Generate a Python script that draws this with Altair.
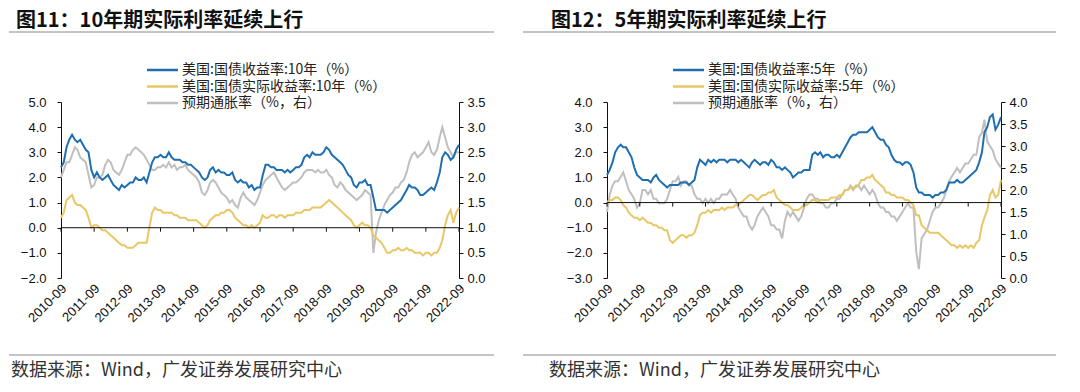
import altair as alt
import pandas as pd

# ---------------- data ----------------
tick_labels = ["2010-09", "2011-09", "2012-09", "2013-09", "2014-09", "2015-09", "2016-09",
               "2017-09", "2018-09", "2019-09", "2020-09", "2021-09", "2022-09"]
months = pd.date_range("2010-09-01", "2022-09-01", freq="MS")

us10_nominal = [
    2.4, 2.6, 3.2, 3.5, 3.7, 3.5, 3.4, 3.5, 3.3, 3.1, 3.0, 2.3,
    2.0, 2.2, 2.0, 1.9, 2.0, 2.1, 1.9, 1.7, 1.6, 1.5, 1.7, 1.6,
    1.7, 1.8, 1.8, 2.0, 1.9, 1.9, 2.0, 1.8, 2.2, 2.6, 2.8, 2.8,
    2.9, 2.8, 2.8, 3.0, 2.8, 2.7, 2.7, 2.7, 2.6, 2.6, 2.5, 2.5,
    2.4, 2.3, 2.2, 2.0, 1.9, 2.0, 2.3, 2.4, 2.2, 2.3, 2.2, 2.2,
    2.1, 2.1, 2.2, 1.9, 1.8, 1.9, 1.8, 1.8, 1.6, 1.7, 1.5, 1.6,
    1.6, 2.1, 2.5, 2.5, 2.4, 2.4, 2.3, 2.3, 2.3, 2.2, 2.3, 2.2,
    2.3, 2.4, 2.4, 2.5, 2.8, 2.9, 2.8, 3.0, 2.9, 2.9, 2.9, 3.0,
    3.2, 3.1, 2.9, 2.8, 2.7, 2.6, 2.5, 2.3, 2.1, 2.0, 1.7, 1.6,
    1.8, 1.8, 1.9, 1.7, 1.7, 1.2, 0.7, 0.7, 0.7, 0.7, 0.6, 0.7,
    0.8, 0.9, 1.0, 1.1, 1.3, 1.5, 1.7, 1.6, 1.6, 1.5, 1.3, 1.3,
    1.4, 1.5, 1.6, 1.5, 1.8, 2.2, 2.8, 3.0, 2.9, 2.7, 2.8, 3.1, 3.3]
us10_real = [
    0.4, 0.6, 1.1, 1.2, 1.3, 1.0, 0.9, 0.9, 0.8, 0.7, 0.4, 0.0,
    0.1, 0.1, 0.0, -0.1, -0.1, -0.2, -0.3, -0.4, -0.5, -0.6, -0.7, -0.7,
    -0.8, -0.8, -0.8, -0.7, -0.6, -0.6, -0.6, -0.6, 0.0, 0.6, 0.8, 0.7,
    0.7, 0.6, 0.6, 0.6, 0.6, 0.5, 0.5, 0.4, 0.4, 0.4, 0.3, 0.3,
    0.3, 0.3, 0.2, 0.1, 0.0, 0.1, 0.3, 0.4, 0.5, 0.5, 0.6, 0.6,
    0.7, 0.7, 0.6, 0.4, 0.3, 0.2, 0.1, 0.1, 0.0, 0.1, 0.0, 0.1,
    0.2, 0.5, 0.4, 0.4, 0.5, 0.5, 0.4, 0.5, 0.5, 0.4, 0.5, 0.5,
    0.5, 0.6, 0.6, 0.6, 0.7, 0.7, 0.7, 0.8, 0.8, 0.8, 0.8, 0.9,
    1.0, 1.1, 1.0, 0.9, 0.8, 0.7, 0.6, 0.5, 0.4, 0.3, 0.1, 0.0,
    0.1, 0.2, 0.1, 0.1, 0.0, -0.3, -0.4, -0.5, -0.6, -0.8, -1.0, -1.0,
    -0.9, -0.9, -0.8, -0.9, -0.9, -0.8, -0.9, -0.9, -1.0, -1.0, -1.0, -1.1,
    -1.0, -1.0, -1.1, -1.0, -1.0, -0.8, -0.5, 0.1, 0.5, 0.7, 0.2, 0.6, 0.8]
us10_breakeven = [
    2.0, 2.15, 2.3, 2.3, 2.45, 2.6, 2.55, 2.4, 2.35, 2.3, 2.05, 1.8,
    1.85, 2.0, 2.0, 2.05, 2.25, 2.35, 2.3, 2.15, 2.1, 2.05, 2.15, 2.3,
    2.45, 2.45, 2.55, 2.6, 2.55, 2.5, 2.45, 2.35, 2.25, 2.15, 2.15, 2.2,
    2.2, 2.25, 2.2, 2.3, 2.2, 2.25, 2.15, 2.2, 2.2, 2.25, 2.15, 2.1,
    2.05, 2.0, 1.9, 1.7, 1.65, 1.75, 1.9, 1.95, 1.9, 1.8, 1.7, 1.65,
    1.6, 1.5, 1.55, 1.45, 1.4, 1.6, 1.7, 1.6, 1.55, 1.5, 1.45, 1.55,
    1.7, 1.85, 1.95, 2.0, 2.05, 2.1, 2.0, 1.9, 1.8, 1.75, 1.8, 1.85,
    1.9, 1.9, 1.95, 2.0, 2.1, 2.15, 2.15, 2.15, 2.1, 2.15, 2.1, 2.1,
    2.15, 2.05, 2.0, 1.85, 1.8, 1.9, 1.85, 1.75, 1.7, 1.65, 1.6, 1.55,
    1.6, 1.65, 1.75, 1.7, 1.65, 0.5, 0.9, 1.15, 1.3, 1.45, 1.55, 1.65,
    1.7, 1.8, 1.8, 1.9, 1.95, 2.1, 2.3, 2.45, 2.5, 2.4, 2.45, 2.5,
    2.6, 2.7, 2.5, 2.45, 2.55, 2.8, 3.0, 2.8, 2.6, 2.5, 2.4, 2.5, 2.5]

us5_nominal = [
    1.1, 1.3, 1.6, 2.0, 2.2, 2.3, 2.2, 2.2, 2.0, 1.8, 1.4, 1.1,
    1.0, 0.9, 0.9, 0.9, 0.8, 1.0, 1.1, 0.9, 0.8, 0.7, 0.6, 0.7,
    0.7, 0.7, 0.7, 0.8, 0.8, 0.8, 0.7, 0.8, 0.9, 1.4, 1.7, 1.6,
    1.5, 1.7, 1.6, 1.7, 1.6, 1.7, 1.7, 1.7, 1.6, 1.7, 1.7, 1.7,
    1.6, 1.7, 1.6, 1.5, 1.4, 1.6, 1.7, 1.6, 1.5, 1.6, 1.6, 1.5,
    1.7, 1.6, 1.4, 1.4, 1.3, 1.4, 1.3, 1.2, 1.0, 1.1, 1.2, 1.2,
    1.3, 1.3, 1.3, 1.9, 2.0, 1.9, 2.0, 1.8, 1.9, 1.9, 1.8, 1.8,
    1.9, 1.8, 2.0, 2.2, 2.4, 2.6, 2.7, 2.7, 2.8, 2.8, 2.8, 2.8,
    2.9, 3.0, 2.8, 2.6, 2.5, 2.5, 2.3, 2.2, 1.9, 1.7, 1.6, 1.6,
    1.5, 1.6, 1.6, 1.5, 1.2, 0.6, 0.4, 0.4, 0.3, 0.3, 0.3, 0.2,
    0.3, 0.3, 0.4, 0.4, 0.5, 0.8, 0.8, 0.8, 0.9, 0.8, 0.8, 0.9,
    1.0, 1.1, 1.2, 1.3, 1.6, 2.0, 2.8, 3.0, 3.4, 3.5, 2.9, 3.1, 3.4]
us5_real = [
    0.0, 0.1, 0.1, 0.2, 0.2, 0.1, -0.1, -0.2, -0.4, -0.5, -0.6, -0.6,
    -0.7, -0.6, -0.7, -0.8, -0.8, -0.9, -0.9, -1.0, -1.0, -1.1, -1.1, -1.5,
    -1.6, -1.5, -1.4, -1.3, -1.3, -1.4, -1.3, -1.3, -1.2, -0.9, -0.5, -0.4,
    -0.4, -0.3, -0.4, -0.3, -0.3, -0.3, -0.2, -0.3, -0.2, -0.2, -0.2, -0.1,
    -0.1, 0.0, 0.1, 0.2, 0.3, 0.3, 0.2, 0.1, 0.2, 0.3, 0.3, 0.4,
    0.4, 0.5, 0.2, 0.1, 0.0, -0.1, -0.1, -0.2, -0.3, -0.3, -0.3, -0.2,
    -0.1, -0.1, 0.0, 0.1, 0.1, 0.0, 0.1, 0.1, 0.1, 0.1, 0.2, 0.2,
    0.2, 0.3, 0.3, 0.5, 0.5, 0.6, 0.6, 0.6, 0.7, 0.9, 0.9, 1.0,
    1.0, 1.1, 0.9, 0.8, 0.7, 0.6, 0.4, 0.4, 0.3, 0.3, 0.2, 0.2,
    0.2, 0.1, 0.1, 0.0, -0.1, -0.5, -0.5, -0.9, -1.0, -1.1, -1.2, -1.2,
    -1.2, -1.2, -1.3, -1.4, -1.5, -1.6, -1.7, -1.7, -1.8, -1.7, -1.8, -1.7,
    -1.8, -1.7, -1.8, -1.6, -1.5, -0.9, -0.6, -0.3, 0.3, 0.5, 0.2, 0.3, 0.9]
us5_breakeven = [
    1.5, 1.9, 2.1, 2.2, 2.2, 2.3, 2.4, 2.2, 2.0, 1.9, 1.8, 1.6,
    1.7, 2.0, 2.0, 1.9, 2.0, 1.8, 1.8, 1.7, 1.7, 1.7, 1.8, 2.0,
    2.2, 2.2, 2.3, 2.1, 2.2, 2.2, 2.1, 2.1, 1.9, 1.8, 1.8, 1.7,
    1.8, 1.7, 1.8, 1.7, 1.8, 1.8, 1.9, 1.9, 1.9, 2.0, 1.9, 1.8,
    1.6, 1.5, 1.4, 1.4, 1.2, 1.1, 1.2, 1.4, 1.5, 1.6, 1.5, 1.4,
    1.2, 1.2, 1.1, 1.1, 0.9, 1.3, 1.5, 1.4, 1.5, 1.4, 1.3, 1.4,
    1.6, 1.8, 1.9, 1.9, 1.8, 1.8, 1.7, 1.7, 1.6, 1.6, 1.7, 1.7,
    1.8, 1.8, 1.9, 2.0, 2.0, 2.1, 2.0, 2.1, 2.1, 2.0, 2.1, 2.0,
    1.9, 2.0, 1.9, 1.7, 1.6, 1.6, 1.5, 1.5, 1.4, 1.4, 1.3, 1.4,
    1.5, 1.6, 1.7, 1.6, 1.6, 0.6, 0.2, 0.9, 1.0, 1.1, 1.3, 1.5,
    1.6, 1.6, 1.7, 1.8, 2.0, 2.2, 2.3, 2.4, 2.5, 2.4, 2.5, 2.6,
    2.6, 2.7, 2.8, 2.8, 3.2, 3.3, 3.6, 3.1, 3.0, 2.9, 2.7, 2.6, 2.5]

left_ticks_10 = [-2.0, -1.0, 0.0, 1.0, 2.0, 3.0, 4.0, 5.0]
right_ticks_10 = [0.0, 0.5, 1.0, 1.5, 2.0, 2.5, 3.0, 3.5]
left_ticks_5 = [-3.0, -2.0, -1.0, 0.0, 1.0, 2.0, 3.0, 4.0]
right_ticks_5 = [0.0, 0.5, 1.0, 1.5, 2.0, 2.5, 3.0, 3.5, 4.0]

titles = ["图11：10年期实际利率延续上行", "图12：5年期实际利率延续上行"]
legend_10 = ["美国:国债收益率:10年（%）", "美国:国债实际收益率:10年（%）", "预期通胀率（%，右）"]
legend_5 = ["美国:国债收益率:5年（%）", "美国:国债实际收益率:5年（%）", "预期通胀率（%，右）"]
source = "数据来源：Wind，广发证券发展研究中心"

# ---------------- style ----------------
BLUE = "#1f6fb0"
YELLOW = "#e8c766"
GRAY = "#bfbfbf"
NUM_FONT = "Liberation Sans"
CJK_FONT = "Noto Sans CJK SC"
H = 176

tick_dt = [alt.DateTime(year=int(s[:4]), month=int(s[5:]), date=1) for s in tick_labels]
tick_df = pd.DataFrame({"d": pd.to_datetime(tick_labels, format="%Y-%m"),
                        "z": [0.0] * len(tick_labels)})


def one(**kw):
    return pd.DataFrame({k: [v] for k, v in kw.items()})


def panel(nom, real, be, lvals, rvals, width, title, names, d):
    df = pd.DataFrame({"date": months, "nom": nom, "real": real, "be": be})
    x_axis = alt.Axis(values=tick_dt, format="%Y-%m", labelAngle=315, labelAlign="right",
                      labelBaseline="middle", labelPadding=8, labelOffset=3, labelFontSize=13,
                      labelFont=NUM_FONT, labelColor="#111", domain=False, ticks=False,
                      grid=False, title=None, labelOverlap=False, labelFlush=False)
    x_scale = alt.Scale(domain=[tick_dt[0], tick_dt[-1]], nice=False)
    l_axis = alt.Axis(orient="left", values=lvals, format=".1f", title=None, grid=False,
                      domainColor="#111", tickColor="#111", tickSize=4, labelPadding=11,
                      labelFontSize=13, labelFont=NUM_FONT, labelColor="#111",
                      labelOverlap=False, labelFlush=False)
    r_axis = alt.Axis(orient="right", values=rvals, format=".1f", title=None, grid=False,
                      domainColor="#111", tickColor="#111", tickSize=4, labelPadding=4,
                      labelFontSize=13, labelFont=NUM_FONT, labelColor="#111",
                      labelOverlap=False, labelFlush=False)
    l_scale = alt.Scale(domain=[lvals[0], lvals[-1]], nice=False, zero=False)
    r_scale = alt.Scale(domain=[rvals[0], rvals[-1]], nice=False, zero=False)
    X = alt.X("date:T", scale=x_scale, axis=x_axis)

    gray = alt.Chart(df).mark_line(color=GRAY, strokeWidth=2).encode(
        x=X, y=alt.Y("be:Q", scale=r_scale, axis=r_axis))
    yellow = alt.Chart(df).mark_line(color=YELLOW, strokeWidth=2).encode(
        x=X, y=alt.Y("real:Q", scale=l_scale, axis=l_axis))
    blue = alt.Chart(df).mark_line(color=BLUE, strokeWidth=2).encode(
        x=X, y=alt.Y("nom:Q", scale=l_scale, axis=l_axis))
    zero = alt.Chart(one(z=0.0)).mark_rule(color="#111", strokeWidth=1).encode(
        y=alt.Y("z:Q", scale=l_scale, axis=l_axis))
    ticks = alt.Chart(tick_df).mark_rule(color="#111", strokeWidth=1, y2Offset=4).encode(
        x=alt.X("d:T", scale=x_scale, axis=x_axis),
        y=alt.Y("z:Q", scale=l_scale, axis=l_axis), y2="z:Q")
    left = alt.layer(yellow, blue, zero, ticks)

    decos = []
    # invisible anchors (fix where the drawing starts and ends)
    for yy in (-93.5, 289):
        decos.append(alt.Chart(one(a=0)).mark_rule(color="white", strokeWidth=1).encode(
            x=alt.value(0), x2=alt.value(6), y=alt.value(yy)))
    # title
    decos.append(alt.Chart(one(t=title)).mark_text(
        align="left", baseline="top", fontSize=20, fontWeight="bold", font=CJK_FONT, color="#111"
    ).encode(text="t:N", x=alt.value(d["title_x"]), y=alt.value(-91)))
    # title rule and bottom rule
    for yy in (-70, 253):
        decos.append(alt.Chart(one(a=0)).mark_rule(color="#8a8a8a", strokeWidth=1.2).encode(
            x=alt.value(d["rule_x1"]), x2=alt.value(d["rule_x2"]), y=alt.value(yy)))
    # legend
    for i, (nm, col) in enumerate(zip(names, [BLUE, YELLOW, GRAY])):
        yy = -32 + i * 16.5
        decos.append(alt.Chart(one(a=0)).mark_rule(color=col, strokeWidth=2.5).encode(
            x=alt.value(d["leg_x"]), x2=alt.value(d["leg_x"] + 31), y=alt.value(yy)))
        decos.append(alt.Chart(one(t=nm)).mark_text(
            align="left", baseline="middle", fontSize=14, font=CJK_FONT, color="#222"
        ).encode(text="t:N", x=alt.value(d["leg_x"] + 35), y=alt.value(yy)))
    # source
    decos.append(alt.Chart(one(t=source)).mark_text(
        align="left", baseline="alphabetic", fontSize=18, font=CJK_FONT, color="#333"
    ).encode(text="t:N", x=alt.value(d["src_x"]), y=alt.value(274)))

    return alt.layer(gray, left, *decos).resolve_scale(y="independent").properties(
        width=width, height=H)


p1 = panel(us10_nominal, us10_real, us10_breakeven, left_ticks_10, right_ticks_10, 398,
           titles[0], legend_10,
           {"title_x": -45, "rule_x1": -52, "rule_x2": 433, "leg_x": 86, "src_x": -50})
p2 = panel(us5_nominal, us5_real, us5_breakeven, left_ticks_5, right_ticks_5, 394,
           titles[1], legend_5,
           {"title_x": -56, "rule_x1": -84, "rule_x2": 449, "leg_x": 66, "src_x": -58})

chart = alt.hconcat(p1, p2, spacing=148, bounds="flush").properties(padding=0).configure_view(
    stroke=None)

chart.save("out.html", embed_options={"renderer": "svg", "actions": False})
